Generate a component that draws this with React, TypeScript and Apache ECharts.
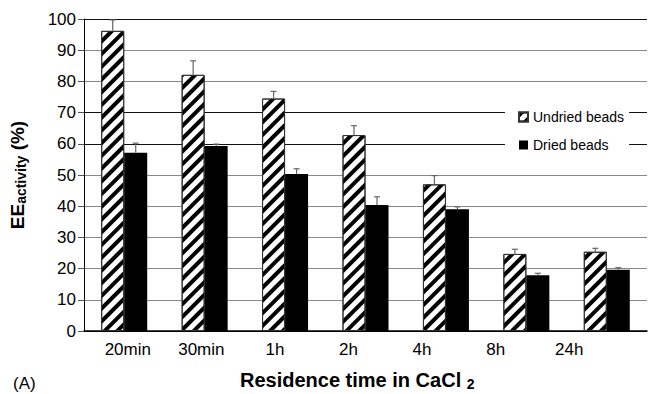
import React, { useEffect, useRef } from "react";
import * as echarts from "echarts";

const categories = ["20min", "30min", "1h", "2h", "4h", "8h", "24h"];
const undried = [96.2, 82.1, 74.5, 62.8, 47.0, 24.7, 25.4];
const undriedErr = [3.5, 4.5, 2.3, 3.0, 2.8, 1.5, 1.1];
const dried = [57.1, 59.3, 50.3, 40.4, 39.0, 17.9, 19.6];
const driedErr = [3.1, 0.6, 1.7, 2.6, 0.8, 0.6, 0.7];
const gridColors = ["#000", "#888", "#888", "#888", "#888", "#888", "#111", "#111", "#888", "#888", "#111"];

const FONT = "Arial, 'Liberation Sans', sans-serif";
const BAR_W = 23;

function errSeries(name: string, vals: number[], errs: number[], off: number) {
  return {
    type: "custom",
    name: name + "-err",
    xAxisIndex: 0,
    yAxisIndex: 0,
    z: 5,
    silent: true,
    data: vals.map((v, i) => [i, v, errs[i]]),
    renderItem: (params: any, api: any) => {
      const i = api.value(0);
      const v = api.value(1);
      const e = api.value(2);
      const p0 = api.coord([i, v]);
      const p1 = api.coord([i, v + e]);
      const x = p0[0] + off;
      const st = { stroke: "#666", lineWidth: 1.2 };
      return {
        type: "group",
        children: [
          { type: "line", shape: { x1: x, y1: p0[1], x2: x, y2: p1[1] }, style: st },
          { type: "line", shape: { x1: x - 3, y1: p1[1], x2: x + 3, y2: p1[1] }, style: st },
        ],
      };
    },
  };
}

export default function App() {
  const ref = useRef<HTMLDivElement>(null);
  useEffect(() => {
    if (!ref.current) return;
    const chart = echarts.init(ref.current, undefined, { renderer: "svg" });
    chart.setOption({
      animation: false,
      backgroundColor: "#fff",
      textStyle: { fontFamily: FONT },
      grid: [
        { left: 84, right: 9, top: 19, bottom: 63, outerBoundsMode: "none", containLabel: false },
        { left: 91, right: 50, top: 19, bottom: 63, outerBoundsMode: "none", containLabel: false },
      ],
      legend: {
        orient: "vertical",
        left: 505,
        top: 106,
        padding: [4, 5, 4, 13],
        backgroundColor: "#fff",
        itemWidth: 9,
        itemHeight: 9,
        itemGap: 14,
        icon: "rect",
        textStyle: { fontSize: 14, color: "#000", fontFamily: FONT },
        data: ["Undried beads", "Dried beads"],
      },
      xAxis: [
        {
          type: "category",
          gridIndex: 0,
          data: categories,
          axisLine: { lineStyle: { color: "#000", width: 1.5 } },
          axisTick: { show: false },
          axisLabel: { show: false },
        },
        {
          type: "category",
          gridIndex: 1,
          data: categories,
          axisLine: { show: false },
          axisTick: { show: false },
          axisLabel: { fontSize: 17, color: "#000", margin: 10, fontFamily: FONT },
        },
      ],
      yAxis: [
        {
          type: "value",
          gridIndex: 0,
          min: 0,
          max: 100,
          interval: 10,
          axisLine: { show: true, lineStyle: { color: "#000", width: 1 } },
          axisTick: { show: true, length: 6, lineStyle: { color: "#555" } },
          axisLabel: { fontSize: 17, color: "#000", margin: 8, fontFamily: FONT },
          splitLine: { show: true, lineStyle: { color: gridColors, width: 1.2 } },
          name: "{a|EE}{b|activity}{a| (%)}",
          nameLocation: "middle",
          nameRotate: 90,
          nameGap: 56,
          nameTextStyle: {
            rich: {
              a: { fontSize: 19, fontWeight: "bold", color: "#000", fontFamily: FONT, lineHeight: 22, verticalAlign: "middle" },
              b: { fontSize: 14, fontWeight: "bold", color: "#000", fontFamily: FONT, lineHeight: 22, verticalAlign: "bottom", padding: [10, 0, 0, 0] },
            },
          },
        },
        { type: "value", gridIndex: 1, min: 0, max: 100, show: false },
      ],
      series: [
        {
          type: "bar",
          name: "Undried beads",
          xAxisIndex: 0,
          yAxisIndex: 0,
          data: undried,
          barWidth: BAR_W,
          barGap: "0%",
          itemStyle: {
            color: "#fff",
            borderColor: "#333",
            borderWidth: 1,
            decal: {
              symbol: "rect",
              symbolSize: 1,
              color: "#000",
              dashArrayX: [1, 0],
              dashArrayY: [4, 5],
              rotation: -Math.PI / 4,
            },
          },
        },
        {
          type: "bar",
          name: "Dried beads",
          xAxisIndex: 0,
          yAxisIndex: 0,
          data: dried,
          barWidth: BAR_W,
          barGap: "0%",
          itemStyle: { color: "#000" },
        },
        errSeries("Undried beads", undried, undriedErr, -BAR_W / 2),
        errSeries("Dried beads", dried, driedErr, BAR_W / 2),
      ],
      graphic: [
        {
          type: "text",
          x: 240,
          y: 380,
          style: {
            text: "{a|Residence time in CaCl }{b|2}",
            align: "left",
            verticalAlign: "middle",
            rich: {
              a: { fontSize: 20, fontWeight: "bold", fill: "#000", fontFamily: FONT, lineHeight: 22, verticalAlign: "middle" },
              b: { fontSize: 14, fontWeight: "bold", fill: "#000", fontFamily: FONT, lineHeight: 22, verticalAlign: "bottom", padding: [8, 0, 0, 0] },
            },
          },
        },
        {
          type: "text",
          left: 13,
          top: 375,
          style: { text: "(A)", fontSize: 17, fill: "#000", fontFamily: FONT },
        },
      ],
    });
    return () => chart.dispose();
  }, []);
  return <div ref={ref} style={{ width: 656, height: 394, position: "absolute", left: 0, top: 0 }} />;
}
